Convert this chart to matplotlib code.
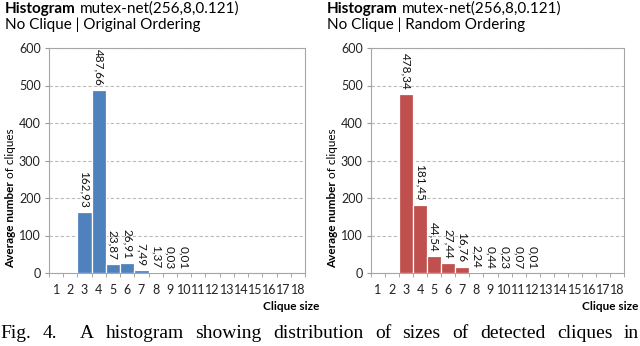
import matplotlib.pyplot as plt
import numpy as np

# clique sizes and average counts
sizes = list(range(1, 19))
orig_counts = [0, 0, 162.93, 487.66, 23.87, 26.91, 7.49, 1.37, 0.03, 0.01,
               0, 0, 0, 0, 0, 0, 0, 0]
rand_counts = [0, 0, 478.34, 181.45, 44.54, 27.44, 16.76, 2.24, 0.44, 0.23,
               0.07, 0.01, 0, 0, 0, 0, 0, 0]
subtitles = ["No Clique | Original Ordering", "No Clique | Random Ordering"]
bar_colors = ["#4F81BD", "#C0504D"]
caption_words = ["Fig.", "4.", "A", "histogram", "showing", "distribution", "of",
                 "sizes", "of", "detected", "cliques", "in"]

plt.rcParams['font.family'] = ['Lato', 'DejaVu Sans']

fig = plt.figure(figsize=(6.4, 3.46), dpi=100)
renderer = fig.canvas.get_renderer()

panels = [
    (orig_counts, [49, 305], 5),
    (rand_counts, [371, 624], 327),
]

W, H = 640.0, 346.0
top_px, bot_px = 48, 273

for i, (counts, (x0, x1), tx) in enumerate(panels):
    ax = fig.add_axes([x0 / W, 1 - bot_px / H, (x1 - x0) / W, (bot_px - top_px) / H])
    bars = ax.bar(sizes, counts, width=1.0, color=bar_colors[i],
                  edgecolor='white', linewidth=0.9, zorder=3)
    ax.set_xlim(0.5, 18.5)
    ax.set_ylim(0, 600)
    ax.set_yticks(range(0, 601, 100))
    ax.set_xticks(sizes)
    ax.set_xticks(np.arange(0.5, 18.6, 1), minor=True)
    ax.tick_params(axis='x', which='major', length=0, pad=8, labelsize=9, colors='#222222')
    ax.tick_params(axis='x', which='minor', length=3, color='#999999', direction='out')
    ax.tick_params(axis='y', length=3, color='#999999', labelsize=9, colors='#222222', pad=3)
    ax.yaxis.grid(True, linestyle=(0, (3, 2)), color='#BBBBBB', linewidth=0.8, zorder=0)
    for s in ax.spines.values():
        s.set_color('#A6A6A6')
        s.set_linewidth(0.8)

    for b, v in zip(bars, counts):
        if v > 0:
            lbl = f"{v:.2f}".replace('.', ',')
            ax.annotate(lbl, (b.get_x() + b.get_width() / 2, v),
                        xytext=(0, 3), textcoords='offset points',
                        rotation=-90, ha='center', va='bottom', fontsize=8.5,
                        color='#111111')

    # titles
    t = fig.text(tx / W, 1 - 9 / H, "Histogram", fontsize=11, fontweight='bold', va='center')
    bb = t.get_window_extent(renderer)
    fig.text((bb.x1 + 4) / W, 1 - 9 / H, "mutex-net(256,8,0.121)", fontsize=11, va='center')
    fig.text(tx / W, 1 - 25 / H, subtitles[i], fontsize=11, va='center')

    # x label
    fig.text((x1 + 14) / W, 1 - 306 / H, "Clique size", fontsize=8.5,
             fontweight='bold', ha='right', va='center')

    # y label: bold + regular parts
    yl_x = (x0 - 38) / W
    t1 = fig.text(yl_x, 1 - 268 / H, "Average number", rotation=90, fontsize=8.5,
                  fontweight='bold', ha='center', va='bottom')
    bb = t1.get_window_extent(renderer)
    fig.text(yl_x, (bb.y1 + 3) / H, "of cliques", rotation=90, fontsize=8.5,
             ha='center', va='bottom')

# justified caption line; wider gap after "Fig. 4."
texts = [fig.text(0, 1 - 334 / H, w, family='Liberation Serif', fontsize=14,
                  va='center', ha='left') for w in caption_words]
widths = [t.get_window_extent(renderer).width for t in texts]
gap_weights = [1.0] * (len(caption_words) - 1)
gap_weights[1] = 2.0
gap = (W - 1 - sum(widths)) / sum(gap_weights)
x = 0.0
for k, (t, w) in enumerate(zip(texts, widths)):
    t.set_x(x / W)
    if k < len(gap_weights):
        x += w + gap * gap_weights[k]

fig.savefig("out.png", dpi=100)
